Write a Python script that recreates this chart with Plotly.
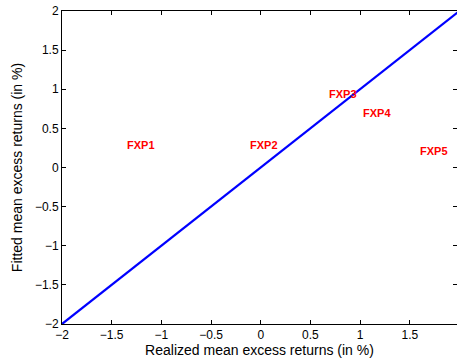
import plotly.graph_objects as go

# Data
labels = ["FXP1", "FXP2", "FXP3", "FXP4", "FXP5"]
realized = [-1.36, -0.12, 0.68, 1.02, 1.59]
fitted = [0.29, 0.29, 0.94, 0.70, 0.21]
diag = [-2, 2]
tick_vals = [-2, -1.5, -1, -0.5, 0, 0.5, 1, 1.5, 2]
tick_text = ["\u22122", "\u22121.5", "\u22121", "\u22120.5", "0", "0.5", "1", "1.5", "2"]

FONT = "Liberation Sans, Arial, Helvetica, sans-serif"

fig = go.Figure()
fig.add_trace(go.Scatter(x=diag, y=diag, mode="lines",
                         line=dict(color="rgb(0,0,255)", width=2.2),
                         showlegend=False, hoverinfo="skip"))
fig.add_trace(go.Scatter(x=[], y=[], yaxis="y2", showlegend=False))

for lab, xv, yv in zip(labels, realized, fitted):
    fig.add_annotation(x=xv, y=yv, text=lab, showarrow=False,
                       xanchor="left", yanchor="middle", borderpad=0,
                       font=dict(family=FONT, size=11, color="rgb(255,0,0)",
                                 weight="bold"))

axis_common = dict(
    tickmode="array", tickvals=tick_vals, ticktext=tick_text,
    ticks="inside", ticklen=4, tickcolor="black", tickwidth=1,
    showgrid=False, zeroline=False,
    tickfont=dict(family=FONT, size=12, color="black"),
)

fig.update_layout(
    width=457, height=364,
    margin=dict(l=62, r=0, t=11, b=40),
    paper_bgcolor="white", plot_bgcolor="white",
    xaxis=dict(range=[-2, 1.975], showline=True, linecolor="black", linewidth=1,
               mirror="ticks",
               title=dict(text="Realized mean excess returns (in %)",
                          font=dict(family=FONT, size=14, color="black"),
                          standoff=2),
               **axis_common),
    yaxis=dict(range=[-2, 2], showline=True, linecolor="black", linewidth=1,
               mirror=False,
               title=dict(text="Fitted mean excess returns (in %)",
                          font=dict(family=FONT, size=14, color="black"),
                          standoff=8),
               **axis_common),
    yaxis2=dict(range=[-2, 2], overlaying="y", side="right", showline=False,
                showticklabels=False, tickmode="array", tickvals=tick_vals,
                ticks="inside", ticklen=4, tickcolor="black", showgrid=False,
                zeroline=False),
    showlegend=False,
)

fig.write_html("out.html")
